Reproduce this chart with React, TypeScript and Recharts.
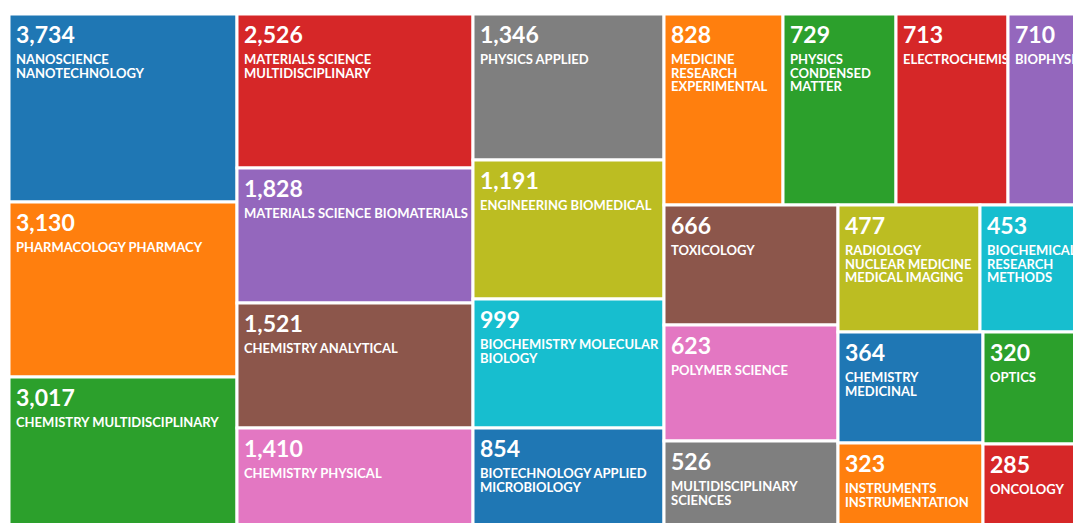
import React from 'react';
import { Treemap } from 'recharts';

// Web of Science categories, sorted by record count (as in the reference)
const categories: string[] = [
  'NANOSCIENCE NANOTECHNOLOGY',
  'PHARMACOLOGY PHARMACY',
  'CHEMISTRY MULTIDISCIPLINARY',
  'MATERIALS SCIENCE MULTIDISCIPLINARY',
  'MATERIALS SCIENCE BIOMATERIALS',
  'CHEMISTRY ANALYTICAL',
  'CHEMISTRY PHYSICAL',
  'PHYSICS APPLIED',
  'ENGINEERING BIOMEDICAL',
  'BIOCHEMISTRY MOLECULAR BIOLOGY',
  'BIOTECHNOLOGY APPLIED MICROBIOLOGY',
  'MEDICINE RESEARCH EXPERIMENTAL',
  'PHYSICS CONDENSED MATTER',
  'ELECTROCHEMISTRY',
  'BIOPHYSICS',
  'TOXICOLOGY',
  'POLYMER SCIENCE',
  'MULTIDISCIPLINARY SCIENCES',
  'RADIOLOGY NUCLEAR MEDICINE MEDICAL IMAGING',
  'BIOCHEMICAL RESEARCH METHODS',
  'CHEMISTRY MEDICINAL',
  'INSTRUMENTS INSTRUMENTATION',
  'OPTICS',
  'ONCOLOGY',
];

const counts: number[] = [
  3734, 3130, 3017, 2526, 1828, 1521, 1410, 1346, 1191, 999, 854, 828, 729, 713,
  710, 666, 623, 526, 477, 453, 364, 323, 320, 285,
];

const palette: string[] = [
  '#1f77b4', '#ff7f0e', '#2ca02c', '#d62728', '#9467bd',
  '#8c564b', '#e377c2', '#7f7f7f', '#bcbd22', '#17becf',
];

// Tile area scale: in the reference, tiles grow sub-linearly with the count
// (roughly count^0.42), so the tile weight uses that scale.
const AREA_EXPONENT = 0.42;
const treeData = categories.map((name, i) => ({
  name,
  count: counts[i],
  weight: Math.pow(counts[i], AREA_EXPONENT),
}));

const FONT_FAMILY = 'Lato, "Open Sans", sans-serif';
const NAME_FONT_SIZE = 13;
const NAME_FONT = `700 ${NAME_FONT_SIZE}px Lato`;
const LINE_HEIGHT = 13.7;
const PAD = 7;

let measureCtx: CanvasRenderingContext2D | null = null;
function textWidth(t: string): number {
  if (!measureCtx && typeof document !== 'undefined') {
    measureCtx = document.createElement('canvas').getContext('2d');
  }
  if (!measureCtx) return t.length * 8;
  measureCtx.font = NAME_FONT;
  return measureCtx.measureText(t).width;
}

function wrap(text: string, maxWidth: number): string[] {
  const words = text.split(' ');
  const lines: string[] = [];
  let cur = '';
  for (const w of words) {
    const t = cur ? cur + ' ' + w : w;
    if (cur && textWidth(t) > maxWidth) {
      lines.push(cur);
      cur = w;
    } else {
      cur = t;
    }
  }
  if (cur) lines.push(cur);
  return lines;
}

const TileShape = (props: any) => {
  const { x, y, width, height, depth, index, name, count } = props;
  if (depth !== 1 || width <= 0 || height <= 0) return null;
  const clipId = `tile-clip-${index}`;
  const lines = wrap(String(name), width - PAD - 1);
  const tx = x + PAD;
  return (
    <g>
      <rect
        x={x}
        y={y}
        width={width}
        height={height}
        fill={palette[index % palette.length]}
        stroke="#ffffff"
        strokeWidth={3}
      />
      <clipPath id={clipId}>
        <rect x={x + 1.5} y={y + 1.5} width={Math.max(0, width - 3)} height={Math.max(0, height - 3)} />
      </clipPath>
      <g clipPath={`url(#${clipId})`}>
        <text
          x={tx}
          y={y + 29}
          fill="#ffffff"
          fontFamily={FONT_FAMILY}
          fontWeight={700}
          fontSize={23}
        >
          {Number(count).toLocaleString('en-US')}
        </text>
        <text fill="#ffffff" fontFamily={FONT_FAMILY} fontWeight={700} fontSize={NAME_FONT_SIZE}>
          {lines.map((l, i) => (
            <tspan key={i} x={tx} y={y + 50 + i * LINE_HEIGHT}>
              {l}
            </tspan>
          ))}
        </text>
      </g>
    </g>
  );
};

export default function App() {
  return (
    <div
      style={{
        position: 'fixed',
        left: 0,
        top: 0,
        width: 1073,
        height: 523,
        overflow: 'hidden',
        background: '#ffffff',
      }}
    >
      <div style={{ position: 'absolute', left: 8.5, top: 13.5 }}>
        <Treemap
          width={1111}
          height={535}
          data={treeData}
          dataKey="weight"
          nameKey="name"
          aspectRatio={1.35}
          isAnimationActive={false}
          content={(p: any) => <TileShape {...p} />}
        />
      </div>
    </div>
  );
}
